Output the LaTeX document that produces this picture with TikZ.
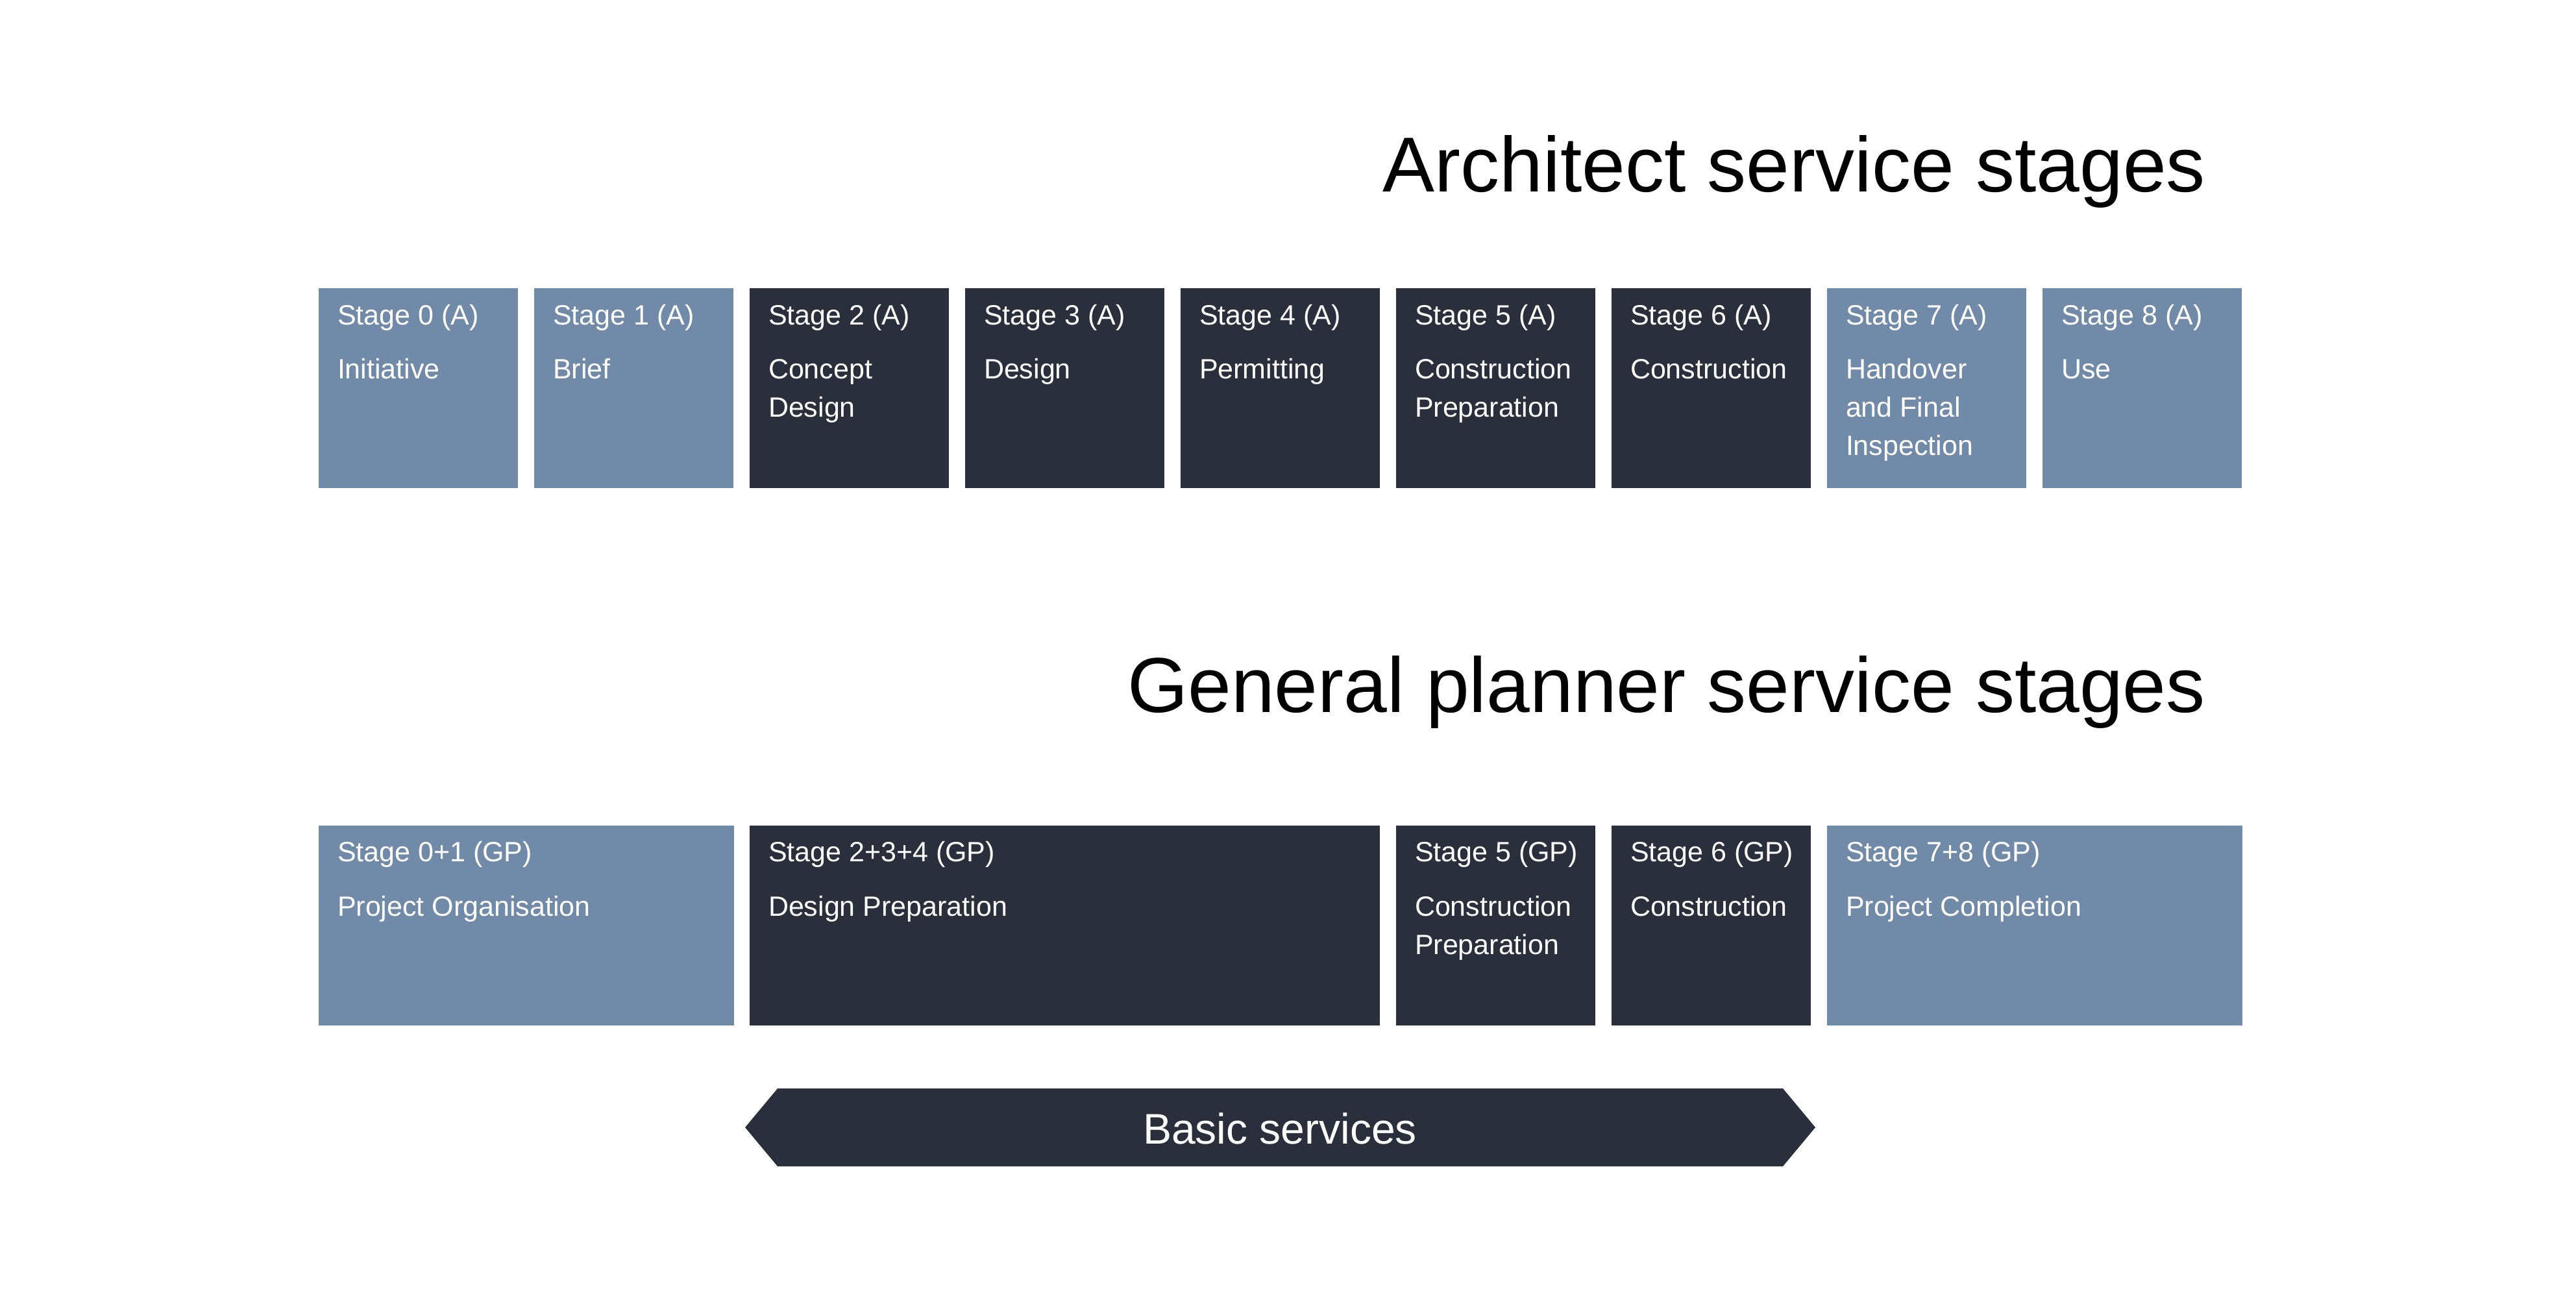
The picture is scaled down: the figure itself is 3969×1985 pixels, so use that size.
\documentclass[tikz,border=0pt]{standalone}
\usepackage{fontspec}
\setmainfont{Liberation Sans}
\definecolor{lightc}{HTML}{708AA8}
\definecolor{darkc}{HTML}{2A2F3B}
\newcommand{\stagefont}{\fontsize{10.75pt}{14.75pt}\selectfont}
\newcommand{\headfont}{\fontsize{30pt}{36pt}\selectfont}
\newcommand{\basicfont}{\fontsize{16.5pt}{20pt}\selectfont}
\newcommand{\stk}[1]{\begin{tabular}[t]{@{}l@{}}#1\end{tabular}}
\tikzset{
  stagebox/.style={anchor=north west, inner sep=0pt, outer sep=0pt, minimum height=77pt, draw=none},
  light/.style={stagebox, fill=lightc},
  dark/.style={stagebox, fill=darkc},
  stagetxt/.style={anchor=base west, inner sep=0pt, outer sep=0pt, text=white, font=\stagefont},
  headtxt/.style={anchor=base east, inner sep=0pt, outer sep=0pt, text=black, font=\headfont},
}
\begin{document}
\begin{tikzpicture}[x=0.25pt,y=-0.25pt]
\useasboundingbox[fill=white] (0,0) rectangle (3969,1985);

\node[headtxt] (h1) at (3398,295) {Architect service stages};
\node[headtxt] (h2) at (3398,1097) {General planner service stages};

\foreach \i/\desc/\sty in {0/{Initiative}/light, 1/{Brief}/light, 2/{Concept\\Design}/dark, 3/{Design}/dark, 4/{Permitting}/dark, 5/{Construction\\Preparation}/dark, 6/{Construction}/dark, 7/{Handover\\and Final\\Inspection}/light, 8/{Use}/light}{
  \pgfmathsetmacro\xx{491+332*\i}
  \node[\sty, minimum width=76.75pt] (a\i) at (\xx,444) {};
  \node[stagetxt] (a\i h) at (\xx+29,500) {Stage \i{} (A)};
  \node[stagetxt] (a\i d) at (\xx+29,583) {\stk{\desc}};
}

% General planner row
\node[light, minimum width=160pt] (g01) at (491,1272) {};
\node[stagetxt] (g01h) at (520,1327) {Stage 0+1 (GP)};
\node[stagetxt] (g01d) at (520,1411) {Project Organisation};

\node[dark, minimum width=242.75pt] (g234) at (1155,1272) {};
\node[stagetxt] (g234h) at (1184,1327) {Stage 2+3+4 (GP)};
\node[stagetxt] (g234d) at (1184,1411) {Design Preparation};

\node[dark, minimum width=76.75pt] (g5) at (2151,1272) {};
\node[stagetxt] (g5h) at (2180,1327) {Stage 5 (GP)};
\node[stagetxt] (g5d) at (2180,1411) {\stk{Construction\\Preparation}};

\node[dark, minimum width=76.75pt] (g6) at (2483,1272) {};
\node[stagetxt] (g6h) at (2512,1327) {Stage 6 (GP)};
\node[stagetxt] (g6d) at (2512,1411) {Construction};

\node[light, minimum width=160pt] (g78) at (2815,1272) {};
\node[stagetxt] (g78h) at (2844,1327) {Stage 7+8 (GP)};
\node[stagetxt] (g78d) at (2844,1411) {Project Completion};

% Basic services arrow
\fill[darkc] (1148,1737) -- (1198,1677) -- (2747,1677) -- (2797,1737) -- (2747,1797) -- (1198,1797) -- cycle;
\node[anchor=base, inner sep=0pt, text=white, font=\basicfont] (bs) at (1972,1762) {Basic services};
\end{tikzpicture}
\end{document}
